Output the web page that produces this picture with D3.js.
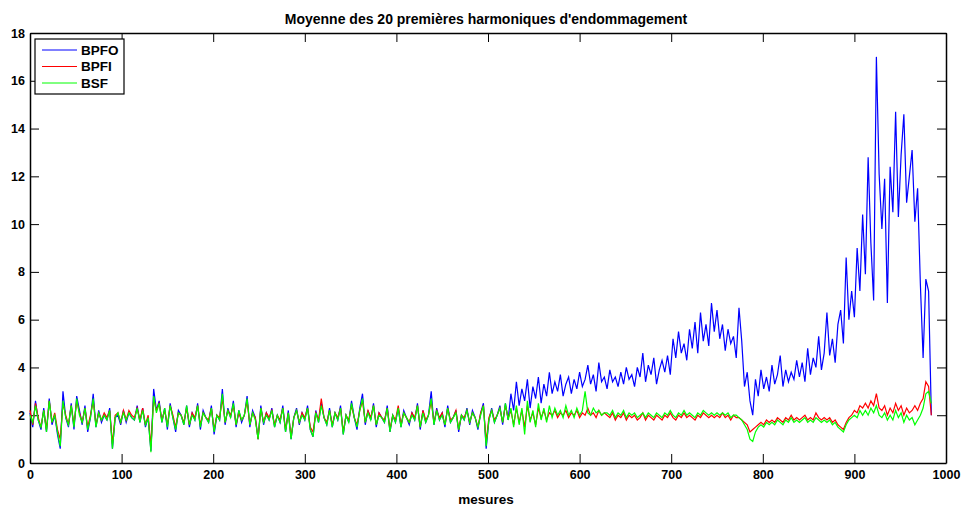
<!DOCTYPE html>
<html>
<head>
<meta charset="utf-8">
<script src="https://cdn.jsdelivr.net/npm/d3@7"></script>
<style>
  body { margin: 0; background: #fff; }
  svg { display: block; font-family: "Liberation Sans", Arial, sans-serif; }
  .axis text { font-size: 12.5px; font-weight: bold; fill: #000; }
  .axis path, .axis line { stroke: #000; }
</style>
</head>
<body>
<svg id="chart" width="961" height="507"></svg>
<script>
// one value every 3 measures, starting at measure 0
var step = 3;
var seriesNames = ["BPFO", "BPFI", "BSF"];
var seriesColors = ["#0000ff", "#ff0000", "#00ff00"];
var xTicks = [0, 100, 200, 300, 400, 500, 600, 700, 800, 900, 1000];
var yTicks = [0, 2, 4, 6, 8, 10, 12, 14, 16, 18];

var bpfo = [
  2.1,1.5,2.6,1.8,1.4,2.3,1.3,2.7,1.6,2.0,
  1.2,0.6,3.0,1.9,1.5,2.5,1.4,2.8,2.2,1.6,
  2.4,1.3,1.9,2.9,1.5,2.2,1.7,2.0,1.8,2.3,
  0.6,1.9,2.0,1.6,2.2,1.7,2.1,1.9,1.8,2.4,
  1.7,2.3,1.5,1.9,0.5,3.1,2.2,2.6,1.7,2.3,
  1.4,2.5,1.9,1.3,2.2,2.0,1.6,2.4,1.5,2.1,
  1.8,2.5,1.4,2.2,1.9,1.7,2.4,1.2,2.0,1.8,
  3.1,1.6,2.3,1.9,2.6,1.5,2.2,1.7,2.0,2.8,
  1.5,2.2,1.9,1.0,2.4,1.6,2.1,1.8,2.3,1.5,
  2.0,1.7,2.4,1.3,2.2,1.0,1.9,2.3,1.6,2.1,
  1.8,2.4,1.4,1.1,2.2,1.7,2.5,1.9,1.6,2.3,
  1.5,2.1,1.8,2.4,1.2,2.0,1.7,2.6,1.9,1.4,
  2.3,2.9,1.6,2.2,1.8,2.5,1.5,2.1,1.9,1.7,
  2.4,1.3,2.0,1.7,2.3,1.5,2.2,1.9,1.6,2.1,
  1.8,2.5,1.4,2.2,1.7,2.0,3.0,1.6,2.3,1.8,
  2.1,1.5,2.4,1.7,1.9,2.2,1.3,2.0,1.8,2.3,
  1.6,2.2,1.9,1.4,2.1,2.5,0.6,1.8,2.3,1.7,
  2.0,2.4,1.6,2.5,1.8,2.9,2.2,3.4,2.4,3.1,
  2.6,3.5,2.3,3.2,2.7,3.6,2.5,3.3,2.8,3.8,
  2.9,3.4,3.0,3.7,2.8,3.3,3.6,2.9,3.5,3.1,
  3.8,3.2,3.5,4.1,3.3,3.7,3.0,4.2,3.4,3.6,
  3.1,3.9,3.4,3.6,3.2,3.8,3.3,4.0,3.5,3.7,
  3.2,4.0,3.6,4.6,3.4,4.1,3.7,4.4,3.3,3.9,
  4.3,3.8,4.5,3.7,5.2,4.4,5.5,4.6,5.0,4.3,
  5.6,4.8,5.9,4.6,6.3,5.1,5.8,4.9,6.7,5.5,
  6.4,5.2,5.8,4.7,5.6,5.0,5.3,4.4,6.5,5.1,
  3.2,3.8,2.6,2.0,3.5,2.8,3.9,3.1,3.6,3.0,
  4.1,3.3,3.7,4.5,3.2,3.9,3.4,3.8,3.5,4.3,
  3.6,4.2,3.4,4.8,3.7,4.4,4.0,5.3,3.9,4.6,
  6.3,4.5,5.2,4.2,5.8,6.4,5.0,8.6,6.0,7.2,
  6.1,9.0,7.2,10.4,7.9,12.8,9.2,6.8,17.0,12.1,
  9.8,11.9,6.7,12.4,10.5,14.7,10.3,12.9,14.6,10.9,
  12.0,13.1,10.1,11.5,7.5,4.4,7.7,7.2,2.0
];

var bpfi = [
  2.2,1.6,2.5,1.9,1.5,2.2,1.4,2.6,1.7,2.1,
  1.4,1.0,2.5,2.0,1.6,2.4,1.6,2.6,2.1,1.7,
  2.3,1.5,2.0,2.6,1.6,2.1,1.8,2.1,1.9,2.2,
  0.8,2.0,2.1,1.7,2.2,1.8,2.2,2.0,1.9,2.3,
  1.8,2.3,1.6,2.0,0.7,2.7,2.2,2.5,1.8,2.2,
  1.6,2.4,2.0,1.5,2.1,2.0,1.7,2.3,1.6,2.1,
  1.9,2.4,1.6,2.1,1.9,1.8,2.3,1.4,2.0,1.9,
  2.7,1.7,2.2,2.0,2.4,1.6,2.1,1.8,2.0,2.6,
  1.6,2.1,1.9,1.0,2.3,1.7,2.1,1.9,2.2,1.6,
  2.0,1.8,2.3,1.4,2.1,1.1,1.9,2.2,1.7,2.1,
  1.9,2.3,1.5,1.3,2.1,1.8,2.7,1.9,1.7,2.2,
  1.6,2.1,1.9,2.3,1.3,2.0,1.8,2.4,1.9,1.6,
  2.2,2.6,1.7,2.2,1.9,2.4,1.6,2.1,1.9,1.8,
  2.3,1.4,2.0,1.8,2.4,1.6,2.1,1.9,1.7,2.1,
  1.9,2.4,1.5,2.2,1.8,2.0,2.6,1.7,2.2,1.9,
  2.1,1.6,2.3,1.8,1.9,2.2,1.4,2.0,1.9,2.2,
  1.7,2.1,1.9,1.5,2.1,2.4,0.9,1.9,2.2,1.8,
  2.0,2.3,1.7,2.4,1.9,2.2,1.6,2.3,1.7,2.2,
  1.5,2.4,1.8,2.1,1.6,2.3,1.9,2.2,1.8,2.1,
  2.0,2.2,1.9,2.1,2.0,2.2,1.9,2.1,2.0,2.2,
  1.9,2.1,2.0,2.3,2.0,2.1,1.9,2.2,2.0,2.1,
  2.0,1.9,2.1,1.8,2.0,1.9,2.1,1.8,2.0,1.9,
  2.0,1.8,1.9,2.1,1.8,2.0,1.9,1.8,2.0,1.9,
  1.8,2.0,1.9,2.1,1.9,1.8,2.0,1.9,2.1,1.9,
  2.0,1.9,1.8,2.0,1.9,2.1,2.0,1.9,2.0,1.9,
  2.0,1.9,2.1,1.9,2.0,1.8,2.0,1.9,1.9,1.8,
  1.7,1.6,1.3,1.4,1.5,1.6,1.7,1.6,1.8,1.7,
  1.8,1.7,1.9,1.8,1.7,1.9,1.8,2.0,1.8,1.9,
  1.8,1.9,2.0,1.8,1.9,1.8,2.1,1.9,1.8,1.9,
  1.8,1.9,1.7,1.8,1.6,1.5,1.4,1.7,1.9,2.0,
  2.2,2.1,2.4,2.3,2.5,2.3,2.6,2.4,2.9,2.3,
  2.2,2.4,2.0,2.3,2.1,2.5,2.2,2.4,2.0,2.3,
  2.1,2.2,2.4,2.2,2.5,2.7,3.4,3.2,2.0
];

var bsf = [
  2.0,1.7,2.4,1.8,1.5,2.2,1.3,2.6,1.7,2.0,
  1.3,0.7,2.6,1.9,1.6,2.4,1.5,2.7,2.0,1.7,
  2.3,1.4,1.9,2.7,1.5,2.1,1.8,2.0,1.8,2.2,
  0.6,1.9,2.1,1.7,2.1,1.8,2.1,1.9,1.8,2.3,
  1.7,2.2,1.6,1.9,0.45,2.8,2.1,2.5,1.7,2.3,
  1.5,2.4,1.9,1.4,2.1,2.0,1.6,2.4,1.6,2.0,
  1.8,2.4,1.5,2.1,1.9,1.7,2.3,1.3,2.0,1.8,
  2.9,1.7,2.2,1.9,2.5,1.6,2.2,1.8,2.0,2.7,
  1.6,2.1,1.8,1.0,2.3,1.7,2.0,1.8,2.2,1.5,
  2.0,1.7,2.3,1.3,2.1,1.0,1.9,2.2,1.7,2.0,
  1.8,2.3,1.4,1.1,2.1,1.7,2.4,1.9,1.6,2.2,
  1.5,2.1,1.8,2.3,1.2,2.0,1.7,2.5,1.9,1.5,
  2.2,2.7,1.7,2.1,1.8,2.4,1.6,2.0,1.9,1.7,
  2.3,1.3,2.0,1.7,2.3,1.5,2.1,1.9,1.7,2.0,
  1.8,2.4,1.5,2.1,1.7,2.0,2.7,1.6,2.2,1.8,
  2.0,1.6,2.3,1.7,1.9,2.1,1.4,2.0,1.8,2.2,
  1.7,2.1,1.9,1.5,2.0,2.4,0.7,1.8,2.2,1.7,
  2.0,2.3,1.7,2.5,1.8,2.3,1.5,2.4,1.6,2.3,
  1.2,2.6,1.7,2.2,1.5,2.5,1.8,2.3,1.7,2.4,
  1.9,2.3,2.0,2.2,1.9,2.4,2.0,2.2,1.9,2.3,
  2.0,2.2,3.0,2.1,2.0,2.3,2.1,2.2,2.0,2.1,
  2.1,2.0,2.2,1.9,2.1,2.0,2.2,1.9,2.1,2.0,
  2.1,1.9,2.0,2.1,1.9,2.1,2.0,1.9,2.1,2.0,
  1.9,2.1,2.0,2.2,2.0,1.9,2.1,2.0,2.2,2.0,
  2.1,2.0,1.9,2.1,2.0,2.2,2.1,2.0,2.1,2.0,
  2.1,2.0,2.1,2.0,2.1,1.9,2.0,2.0,1.9,1.8,
  1.6,1.4,1.0,0.9,1.3,1.5,1.6,1.5,1.7,1.6,
  1.7,1.6,1.8,1.7,1.6,1.8,1.7,1.9,1.7,1.8,
  1.7,1.8,1.9,1.7,1.8,1.7,1.9,1.8,1.7,1.8,
  1.7,1.8,1.6,1.7,1.5,1.4,1.3,1.6,1.8,1.9,
  2.0,1.9,2.2,2.0,2.2,2.0,2.3,2.1,2.4,2.0,
  1.9,2.1,1.8,2.0,1.8,2.2,1.9,2.1,1.7,2.0,
  1.8,1.9,1.6,1.8,2.0,2.3,2.9,3.0,2.5
];

var allSeries = [bpfo, bpfi, bsf];

var svg = d3.select("#chart");
var plotLeft = 30, plotRight = 946, plotTop = 33, plotBottom = 463;

var x = d3.scaleLinear().domain([0, 1000]).range([plotLeft, plotRight]);
var y = d3.scaleLinear().domain([0, 18]).range([plotBottom, plotTop]);

// axes, MATLAB style: ticks pointing inward on all four sides
svg.append("g").attr("class", "axis")
  .attr("transform", "translate(0," + plotBottom + ")")
  .call(d3.axisBottom(x).tickValues(xTicks).tickFormat(d3.format("d"))
    .tickSizeInner(-9).tickSizeOuter(0).tickPadding(7));
svg.append("g").attr("class", "axis")
  .attr("transform", "translate(0," + plotTop + ")")
  .call(d3.axisTop(x).tickValues(xTicks).tickSizeInner(-9).tickSizeOuter(0).tickFormat(""));
svg.append("g").attr("class", "axis")
  .attr("transform", "translate(" + plotLeft + ",0)")
  .call(d3.axisLeft(y).tickValues(yTicks).tickSizeInner(-9).tickSizeOuter(0).tickPadding(5));
svg.append("g").attr("class", "axis")
  .attr("transform", "translate(" + plotRight + ",0)")
  .call(d3.axisRight(y).tickValues(yTicks).tickSizeInner(-9).tickSizeOuter(0).tickFormat(""));
svg.selectAll(".axis path").attr("stroke-width", 1.5);

var line = d3.line()
  .x(function(d, i) { return x(i * step); })
  .y(function(d) { return y(d); });

svg.append("g").selectAll("path")
  .data(allSeries)
  .enter().append("path")
  .attr("fill", "none")
  .attr("stroke", function(d, i) { return seriesColors[i]; })
  .attr("stroke-width", 1.2)
  .attr("d", line);

// title and x label
svg.append("text")
  .attr("x", 486).attr("y", 24)
  .attr("text-anchor", "middle")
  .style("font-size", "14px").style("font-weight", "bold")
  .text("Moyenne des 20 premières harmoniques d'endommagement");
svg.append("text")
  .attr("x", 486).attr("y", 504)
  .attr("text-anchor", "middle")
  .style("font-size", "13.5px").style("font-weight", "bold")
  .text("mesures");

// legend
var legend = svg.append("g").attr("transform", "translate(35,39)");
legend.append("rect")
  .attr("width", 89).attr("height", 55)
  .attr("fill", "#fff").attr("stroke", "#000").attr("stroke-width", 1.2);
var rows = legend.selectAll("g.row")
  .data(seriesNames)
  .enter().append("g")
  .attr("class", "row")
  .attr("transform", function(d, i) { return "translate(0," + (11 + i * 16.5) + ")"; });
rows.append("line")
  .attr("x1", 7).attr("x2", 42)
  .attr("stroke", function(d, i) { return seriesColors[i]; });
rows.append("text")
  .attr("x", 46).attr("dy", "0.36em")
  .style("font-size", "13.5px").style("font-weight", "bold")
  .text(function(d) { return d; });
</script>
</body>
</html>
